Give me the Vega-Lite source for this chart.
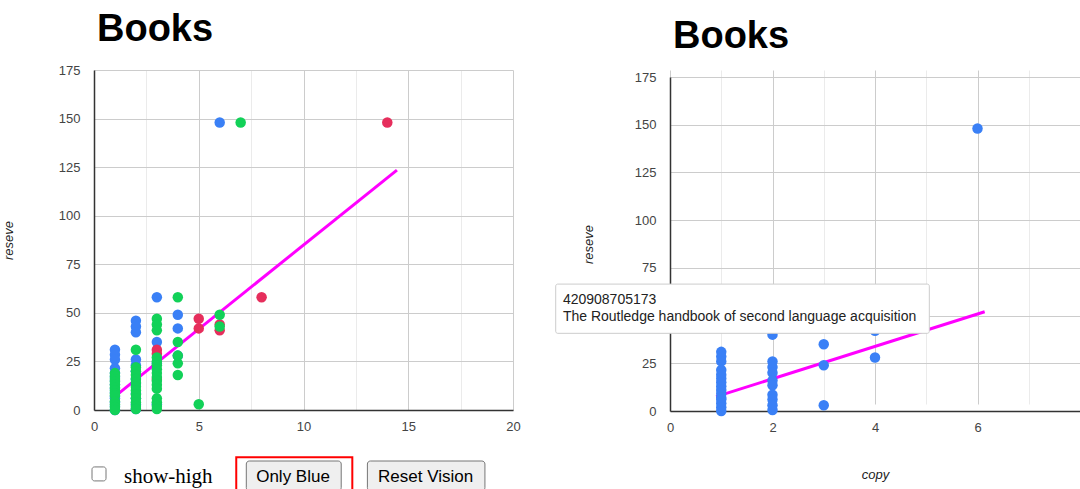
{
  "$schema": "https://vega.github.io/schema/vega-lite/v6.json",
  "background": "white",
  "padding": {"left": 2, "top": 11, "right": 0, "bottom": 0},
  "spacing": 34,
  "config": {
    "font": "Liberation Sans",
    "view": {"stroke": null},
    "axis": {
      "labelFont": "Liberation Sans", "labelFontSize": 13, "labelColor": "#444444", "labelFlush": false,
      "ticks": false, "titleFont": "Liberation Sans", "titleFontSize": 13,
      "titleFontStyle": "italic", "titleFontWeight": "normal", "titleColor": "#222222",
      "domainColor": "#333333", "domainWidth": 1.5, "gridColor": "#cccccc", "gridOpacity": 1
    },
    "title": {"font": "Liberation Sans", "fontSize": 38, "fontWeight": "bold", "color": "#000000", "anchor": "start", "frame": "group", "baseline": "alphabetic", "dx": 3}
  },
  "datasets": {
    "books": [
      {"series": "blue", "copy": 1, "reseve": 31}, {"series": "blue", "copy": 1, "reseve": 28.5}, {"series": "blue", "copy": 1, "reseve": 26},
      {"series": "blue", "copy": 1, "reseve": 21.5}, {"series": "blue", "copy": 1, "reseve": 19}, {"series": "blue", "copy": 1, "reseve": 17},
      {"series": "blue", "copy": 1, "reseve": 15}, {"series": "blue", "copy": 1, "reseve": 13}, {"series": "blue", "copy": 1, "reseve": 11},
      {"series": "blue", "copy": 1, "reseve": 9}, {"series": "blue", "copy": 1, "reseve": 7}, {"series": "blue", "copy": 1, "reseve": 6},
      {"series": "blue", "copy": 1, "reseve": 4}, {"series": "blue", "copy": 1, "reseve": 2}, {"series": "blue", "copy": 1, "reseve": 0},
      {"series": "blue", "copy": 2, "reseve": 46}, {"series": "blue", "copy": 2, "reseve": 43}, {"series": "blue", "copy": 2, "reseve": 40},
      {"series": "blue", "copy": 2, "reseve": 26}, {"series": "blue", "copy": 2, "reseve": 23}, {"series": "blue", "copy": 2, "reseve": 20},
      {"series": "blue", "copy": 2, "reseve": 16}, {"series": "blue", "copy": 2, "reseve": 13.5}, {"series": "blue", "copy": 2, "reseve": 8.5},
      {"series": "blue", "copy": 2, "reseve": 6}, {"series": "blue", "copy": 2, "reseve": 3}, {"series": "blue", "copy": 2, "reseve": 0.5},
      {"series": "blue", "copy": 3, "reseve": 58}, {"series": "blue", "copy": 3, "reseve": 35}, {"series": "blue", "copy": 3, "reseve": 24},
      {"series": "blue", "copy": 3, "reseve": 3}, {"series": "blue", "copy": 4, "reseve": 49}, {"series": "blue", "copy": 4, "reseve": 42},
      {"series": "blue", "copy": 4, "reseve": 28}, {"series": "blue", "copy": 6, "reseve": 148},
      {"series": "red", "copy": 3, "reseve": 31}, {"series": "red", "copy": 3, "reseve": 29}, {"series": "red", "copy": 3, "reseve": 16},
      {"series": "red", "copy": 5, "reseve": 47}, {"series": "red", "copy": 5, "reseve": 42}, {"series": "red", "copy": 6, "reseve": 44},
      {"series": "red", "copy": 6, "reseve": 41}, {"series": "red", "copy": 8, "reseve": 58}, {"series": "red", "copy": 14, "reseve": 148},
      {"series": "green", "copy": 1, "reseve": 19}, {"series": "green", "copy": 1, "reseve": 17.5}, {"series": "green", "copy": 1, "reseve": 16},
      {"series": "green", "copy": 1, "reseve": 14.5}, {"series": "green", "copy": 1, "reseve": 13}, {"series": "green", "copy": 1, "reseve": 11.5},
      {"series": "green", "copy": 1, "reseve": 10}, {"series": "green", "copy": 1, "reseve": 8.5}, {"series": "green", "copy": 1, "reseve": 7.5},
      {"series": "green", "copy": 1, "reseve": 4.5}, {"series": "green", "copy": 1, "reseve": 3}, {"series": "green", "copy": 1, "reseve": 1.5},
      {"series": "green", "copy": 1, "reseve": 0},
      {"series": "green", "copy": 2, "reseve": 31}, {"series": "green", "copy": 2, "reseve": 22}, {"series": "green", "copy": 2, "reseve": 20},
      {"series": "green", "copy": 2, "reseve": 18}, {"series": "green", "copy": 2, "reseve": 16}, {"series": "green", "copy": 2, "reseve": 14},
      {"series": "green", "copy": 2, "reseve": 12}, {"series": "green", "copy": 2, "reseve": 10}, {"series": "green", "copy": 2, "reseve": 8},
      {"series": "green", "copy": 2, "reseve": 6}, {"series": "green", "copy": 2, "reseve": 4}, {"series": "green", "copy": 2, "reseve": 2},
      {"series": "green", "copy": 2, "reseve": 0.5},
      {"series": "green", "copy": 3, "reseve": 47}, {"series": "green", "copy": 3, "reseve": 44}, {"series": "green", "copy": 3, "reseve": 41},
      {"series": "green", "copy": 3, "reseve": 27}, {"series": "green", "copy": 3, "reseve": 25}, {"series": "green", "copy": 3, "reseve": 23},
      {"series": "green", "copy": 3, "reseve": 21}, {"series": "green", "copy": 3, "reseve": 19}, {"series": "green", "copy": 3, "reseve": 17},
      {"series": "green", "copy": 3, "reseve": 15}, {"series": "green", "copy": 3, "reseve": 13}, {"series": "green", "copy": 3, "reseve": 11},
      {"series": "green", "copy": 3, "reseve": 6}, {"series": "green", "copy": 3, "reseve": 4}, {"series": "green", "copy": 3, "reseve": 2},
      {"series": "green", "copy": 3, "reseve": 0.5},
      {"series": "green", "copy": 4, "reseve": 58}, {"series": "green", "copy": 4, "reseve": 35}, {"series": "green", "copy": 4, "reseve": 28},
      {"series": "green", "copy": 4, "reseve": 24}, {"series": "green", "copy": 4, "reseve": 18}, {"series": "green", "copy": 5, "reseve": 3},
      {"series": "green", "copy": 6, "reseve": 49}, {"series": "green", "copy": 6, "reseve": 43}, {"series": "green", "copy": 7, "reseve": 148}
    ],
    "trendLeft": [{"copy": 1, "reseve": 7.05}, {"copy": 14.46, "reseve": 123.5}],
    "trendRight": [{"copy": 0.9, "reseve": 7.5}, {"copy": 6.14, "reseve": 52}]
  },
  "hconcat": [
    {
      "width": 419,
      "height": 340,
      "title": {"text": "Books", "offset": 15},
      "layer": [
        {
          "data": {"name": "trendLeft"},
          "mark": {"type": "line", "color": "#ff00ff", "strokeWidth": 3},
          "encoding": {
            "x": {"field": "copy", "type": "quantitative", "scale": {"domain": [0, 20], "nice": false},
              "axis": {"values": [0, 2.5, 5, 7.5, 10, 12.5, 15, 17.5, 20], "labelExpr": "datum.value % 5 === 0 ? datum.label : ''",
                "gridColor": {"condition": {"test": "datum.value % 5 !== 0", "value": "#ebebeb"}, "value": "#cccccc"},
                "title": null, "labelPadding": 10}},
            "y": {"field": "reseve", "type": "quantitative", "scale": {"domain": [0, 175], "nice": false},
              "axis": {"values": [0, 25, 50, 75, 100, 125, 150, 175], "title": "reseve", "labelPadding": 14, "titlePadding": 43}}
          }
        },
        {
          "data": {"name": "books"},
          "mark": {"type": "circle", "size": 110, "opacity": 1},
          "encoding": {
            "x": {"field": "copy", "type": "quantitative"},
            "y": {"field": "reseve", "type": "quantitative"},
            "color": {"field": "series", "type": "nominal", "legend": null,
              "scale": {"domain": ["blue", "red", "green"], "range": ["#3a80f6", "#e62e5c", "#12d158"]}}
          }
        },
        {
          "data": {"values": [{}]},
          "mark": {"type": "rect", "fill": "white", "stroke": "#767676", "strokeWidth": 1, "cornerRadius": 2.5},
          "encoding": {"x": {"datum": -0.095}, "x2": {"datum": 0.573}, "y": {"datum": -29.3}, "y2": {"datum": -36.5}}
        },
        {
          "data": {"values": [{}]},
          "mark": {"type": "text", "text": "show-high", "font": "Liberation Serif", "fontSize": 21, "color": "#000000", "align": "left", "baseline": "alphabetic"},
          "encoding": {"x": {"datum": 1.43}, "y": {"datum": -37.7}}
        },
        {
          "data": {"values": [{}]},
          "mark": {"type": "rect", "fill": "#efefef", "stroke": "#767676", "strokeWidth": 1, "cornerRadius": 3},
          "encoding": {"x": {"datum": 7.27}, "x2": {"datum": 11.8}, "y": {"datum": -26.25}, "y2": {"datum": -41.5}}
        },
        {
          "data": {"values": [{}]},
          "mark": {"type": "rect", "fill": "#efefef", "stroke": "#767676", "strokeWidth": 1, "cornerRadius": 3},
          "encoding": {"x": {"datum": 13.05}, "x2": {"datum": 18.66}, "y": {"datum": -26.25}, "y2": {"datum": -41.5}}
        },
        {
          "data": {"values": [{}]},
          "mark": {"type": "rect", "fill": null, "fillOpacity": 0, "stroke": "#ff0000", "strokeWidth": 2},
          "encoding": {"x": {"datum": 6.79}, "x2": {"datum": 12.33}, "y": {"datum": -24.3}, "y2": {"datum": -42}}
        },
        {
          "data": {"values": [{}]},
          "mark": {"type": "text", "text": "Only Blue", "font": "Liberation Sans", "fontSize": 17, "color": "#000000", "align": "center", "baseline": "alphabetic"},
          "encoding": {"x": {"datum": 9.5}, "y": {"datum": -36.9}}
        },
        {
          "data": {"values": [{}]},
          "mark": {"type": "text", "text": "Reset Vision", "font": "Liberation Sans", "fontSize": 17, "color": "#000000", "align": "center", "baseline": "alphabetic"},
          "encoding": {"x": {"datum": 15.83}, "y": {"datum": -36.9}}
        }
      ]
    },
    {
      "width": 410,
      "height": 341,
      "title": {"text": "Books", "offset": 14},
      "layer": [
        {
          "data": {"name": "trendRight"},
          "mark": {"type": "line", "color": "#ff00ff", "strokeWidth": 3},
          "encoding": {
            "x": {"field": "copy", "type": "quantitative", "scale": {"domain": [0, 8], "nice": false},
              "axis": {"values": [0, 1, 2, 3, 4, 5, 6, 7, 8], "labelExpr": "datum.value % 2 === 0 && datum.value < 8 ? datum.label : ''",
                "gridColor": {"condition": {"test": "datum.value % 2 !== 0", "value": "#ebebeb"}, "value": "#cccccc"},
                "title": "copy", "labelPadding": 10, "titlePadding": 34}},
            "y": {"field": "reseve", "type": "quantitative", "scale": {"domain": [0, 175], "nice": false, "range": [341, 7]},
              "axis": {"values": [0, 25, 50, 75, 100, 125, 150, 175], "title": "reseve", "labelPadding": 14, "titlePadding": 39}}
          }
        },
        {
          "data": {"name": "books"},
          "transform": [{"filter": "datum.series === 'blue'"}],
          "mark": {"type": "circle", "size": 110, "opacity": 1, "color": "#3a80f6"},
          "encoding": {
            "x": {"field": "copy", "type": "quantitative"},
            "y": {"field": "reseve", "type": "quantitative"}
          }
        },
        {
          "data": {"values": [{}]},
          "mark": {"type": "rect", "fill": "white", "stroke": "#cccccc", "strokeWidth": 1, "cornerRadius": 2},
          "encoding": {"x": {"datum": -2.23}, "x2": {"datum": 5.06}, "y": {"datum": 66.5}, "y2": {"datum": 40.7}}
        },
        {
          "data": {"values": [{}]},
          "mark": {"type": "text", "text": "420908705173", "font": "Liberation Sans", "fontSize": 14, "color": "#222222", "align": "left", "baseline": "middle"},
          "encoding": {"x": {"datum": -2.09}, "y": {"datum": 58.1}}
        },
        {
          "data": {"values": [{}]},
          "mark": {"type": "text", "text": "The Routledge handbook of second language acquisition", "font": "Liberation Sans", "fontSize": 14, "color": "#222222", "align": "left", "baseline": "middle"},
          "encoding": {"x": {"datum": -2.09}, "y": {"datum": 49.2}}
        }
      ]
    }
  ]
}
